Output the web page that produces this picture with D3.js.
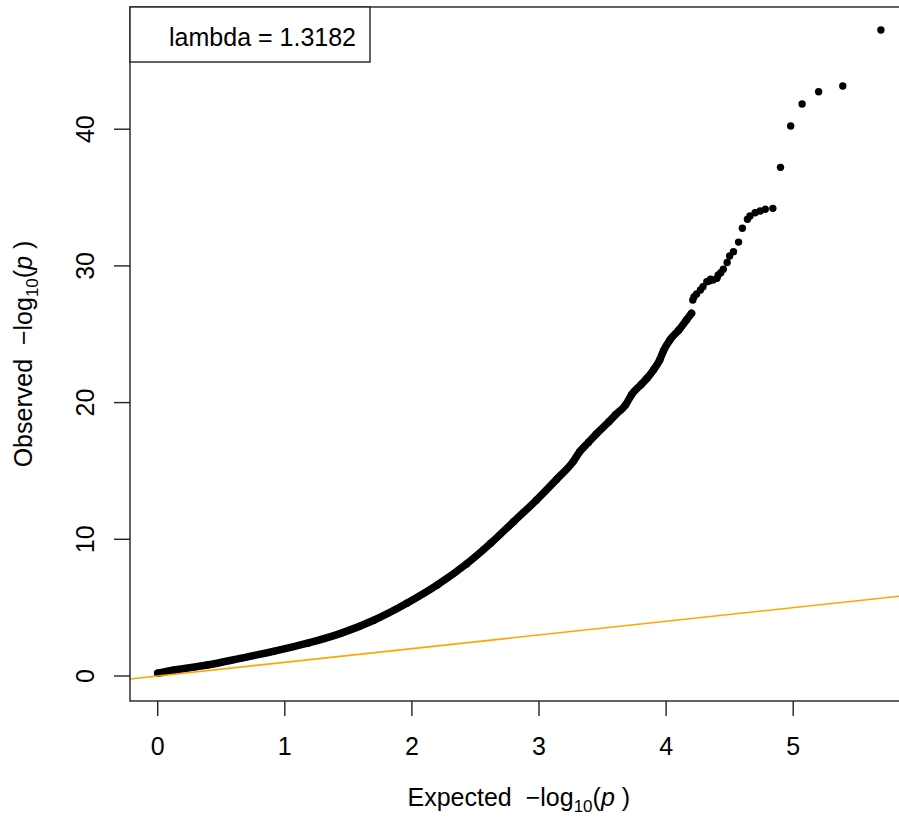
<!DOCTYPE html>
<html>
<head>
<meta charset="utf-8">
<script src="https://cdn.jsdelivr.net/npm/d3@7"></script>
<style>
  body { margin: 0; background: #fff; }
  svg { display: block; font-family: "Liberation Sans", Arial, sans-serif; }
</style>
</head>
<body>
<div id="chart"></div>
<script>
// continuous band of the QQ curve (expected, observed -log10 p)
var bandExpected = [0.00, 0.13, 0.39, 0.65, 0.91, 1.18, 1.44, 1.70, 1.96, 2.20, 2.43, 2.62, 2.80,
    2.98, 3.14, 3.27, 3.32, 3.39, 3.45, 3.55, 3.60, 3.68, 3.73, 3.80, 3.85, 3.90, 3.95, 3.98,
    4.03, 4.10, 4.16, 4.20];
var bandObserved = [0.20, 0.44, 0.80, 1.29, 1.80, 2.40, 3.12, 4.08, 5.32, 6.66, 8.20, 9.71, 11.29,
    12.87, 14.40, 15.70, 16.40, 17.10, 17.70, 18.60, 19.09, 19.82, 20.60, 21.29, 21.78, 22.38, 23.12, 23.80,
    24.58, 25.31, 26.04, 26.53];

// the sparser tail, single points
var tailExpected = [4.21, 4.22, 4.24, 4.27, 4.29, 4.32, 4.34, 4.35, 4.37, 4.40, 4.41, 4.43, 4.45,
    4.48, 4.50, 4.53, 4.57, 4.60, 4.64, 4.66, 4.70, 4.74, 4.78, 4.84, 4.90, 4.98, 5.07, 5.20, 5.39, 5.69];
var tailObserved = [27.50, 27.74, 27.94, 28.24, 28.48, 28.84, 28.90, 29.02, 28.97, 29.09, 29.33, 29.50, 29.75,
    30.25, 30.72, 31.04, 31.74, 32.75, 33.41, 33.65, 33.89, 34.02, 34.14, 34.21, 37.21, 40.23, 41.84, 42.74, 43.16, 47.26];

var xTicks = [0, 1, 2, 3, 4, 5];
var yTicks = [0, 10, 20, 30, 40];
var lambdaText = "lambda = 1.3182";

var width = 899, height = 819;
var plot = {left: 130, top: 7, right: 907.6, bottom: 701};
var fontSize = 25;

var svg = d3.select("#chart").append("svg")
    .attr("width", width)
    .attr("height", height);

var x = d3.scaleLinear().domain([-0.218, 5.9]).range([plot.left, plot.right]);
var y = d3.scaleLinear().domain([-1.83, 48.94]).range([plot.bottom, plot.top]);

svg.append("clipPath").attr("id", "clip")
    .append("rect")
    .attr("x", plot.left).attr("y", plot.top)
    .attr("width", plot.right - plot.left).attr("height", plot.bottom - plot.top);

var g = svg.append("g").attr("clip-path", "url(#clip)");

var band = bandExpected.map(function(d, i) { return {x: d, y: bandObserved[i]}; });
var tail = tailExpected.map(function(d, i) { return {x: d, y: tailObserved[i]}; });

var line = d3.line()
    .x(function(d) { return x(d.x); })
    .y(function(d) { return y(d.y); })
    .curve(d3.curveMonotoneX);

g.append("path")
    .datum(band)
    .attr("d", line)
    .attr("fill", "none")
    .attr("stroke", "#000")
    .attr("stroke-width", 7.5)
    .attr("stroke-linecap", "round");

g.selectAll("circle.pt")
    .data(band.concat(tail))
    .enter().append("circle")
    .attr("class", "pt")
    .attr("cx", function(d) { return x(d.x); })
    .attr("cy", function(d) { return y(d.y); })
    .attr("r", 3.7)
    .attr("fill", "#000");

// y = x reference line
var xd = x.domain();
g.append("line")
    .attr("x1", x(xd[0])).attr("y1", y(xd[0]))
    .attr("x2", x(xd[1])).attr("y2", y(xd[1]))
    .attr("stroke", "#FFA500")
    .attr("stroke-width", 1.6);

// frame
svg.append("rect")
    .attr("x", plot.left).attr("y", plot.top)
    .attr("width", plot.right - plot.left).attr("height", plot.bottom - plot.top)
    .attr("fill", "none")
    .attr("stroke", "#222")
    .attr("stroke-width", 1.4);

// x axis
var xAxis = svg.append("g");
xAxis.selectAll("line")
    .data(xTicks).enter().append("line")
    .attr("x1", function(d) { return x(d); }).attr("x2", function(d) { return x(d); })
    .attr("y1", plot.bottom).attr("y2", plot.bottom + 15)
    .attr("stroke", "#222").attr("stroke-width", 1.4);
xAxis.selectAll("text")
    .data(xTicks).enter().append("text")
    .attr("x", function(d) { return x(d); })
    .attr("y", 755)
    .attr("text-anchor", "middle")
    .attr("font-size", fontSize)
    .text(function(d) { return d; });

// y axis
var yAxis = svg.append("g");
yAxis.selectAll("line")
    .data(yTicks).enter().append("line")
    .attr("x1", plot.left).attr("x2", plot.left - 16)
    .attr("y1", function(d) { return y(d); }).attr("y2", function(d) { return y(d); })
    .attr("stroke", "#222").attr("stroke-width", 1.4);
yAxis.selectAll("text")
    .data(yTicks).enter().append("text")
    .attr("transform", function(d) { return "translate(94," + y(d) + ") rotate(-90)"; })
    .attr("text-anchor", "middle")
    .attr("font-size", fontSize)
    .text(function(d) { return d; });

// axis titles
function logTitle(sel, word) {
    sel.attr("xml:space", "preserve").style("white-space", "pre");
    sel.append("tspan").text(word + "  \u2212log");
    sel.append("tspan").attr("font-size", 17).attr("dy", 6).text("10");
    sel.append("tspan").attr("dy", -6).text("(");
    sel.append("tspan").attr("font-style", "italic").text("p");
    sel.append("tspan").text(" )");
}

var xTitle = svg.append("text")
    .attr("x", (plot.left + plot.right) / 2)
    .attr("y", 806)
    .attr("text-anchor", "middle")
    .attr("font-size", fontSize);
logTitle(xTitle, "Expected");

var yTitle = svg.append("text")
    .attr("transform", "translate(32," + (plot.top + plot.bottom) / 2 + ") rotate(-90)")
    .attr("text-anchor", "middle")
    .attr("font-size", fontSize);
logTitle(yTitle, "Observed");

// legend
svg.append("rect")
    .attr("x", plot.left).attr("y", plot.top)
    .attr("width", 240).attr("height", 55)
    .attr("fill", "#fff")
    .attr("stroke", "#222")
    .attr("stroke-width", 1.4);
svg.append("text")
    .attr("x", 356)
    .attr("y", 45.5)
    .attr("text-anchor", "end")
    .attr("font-size", fontSize)
    .text(lambdaText);
</script>
</body>
</html>
